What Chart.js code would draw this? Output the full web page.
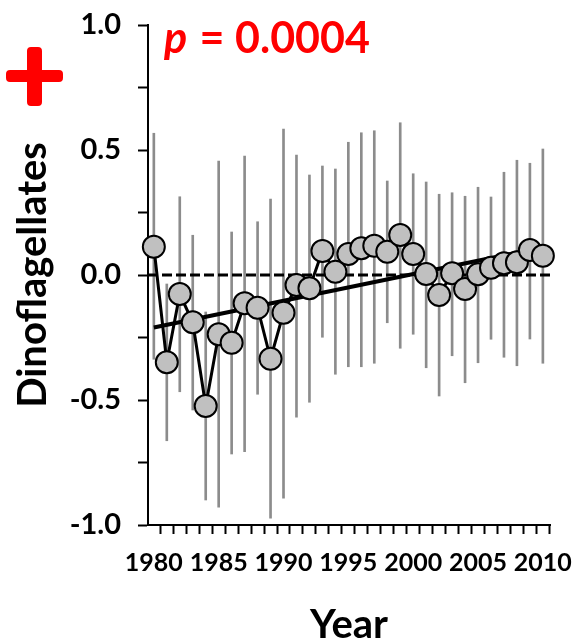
<!DOCTYPE html>
<html>
<head>
<meta charset="utf-8">
<script src="https://cdn.jsdelivr.net/npm/chart.js@4.4.1/dist/chart.umd.min.js"></script>
<style>
  html, body { margin: 0; padding: 0; background: #fff; }
  #wrap { width: 577px; height: 642px; }
</style>
</head>
<body>
<div id="wrap"><canvas id="chart" width="577" height="642"></canvas></div>
<script>
const years = [1980, 1981, 1982, 1983, 1984, 1985, 1986, 1987, 1988, 1989, 1990,
  1991, 1992, 1993, 1994, 1995, 1996, 1997, 1998, 1999, 2000,
  2001, 2002, 2003, 2004, 2005, 2006, 2007, 2008, 2009, 2010];
const values = [0.113, -0.349, -0.076, -0.189, -0.524, -0.237, -0.271, -0.113, -0.131, -0.335, -0.151,
  -0.04, -0.053, 0.096, 0.013, 0.084, 0.107, 0.117, 0.093, 0.16, 0.084,
  0.004, -0.08, 0.007, -0.056, 0.003, 0.029, 0.047, 0.051, 0.1, 0.077];
const highs = [0.567, -0.036, 0.313, 0.159, -0.148, 0.456, 0.172, 0.476, 0.213, 0.304, 0.584,
  0.48, 0.4, 0.436, 0.424, 0.531, 0.569, 0.577, 0.376, 0.609, 0.405,
  0.372, 0.323, 0.329, 0.315, 0.351, 0.312, 0.411, 0.459, 0.447, 0.504];
const lows = [-0.337, -0.663, -0.467, -0.54, -0.9, -0.929, -0.716, -0.707, -0.477, -0.973, -0.893,
  -0.569, -0.509, -0.249, -0.397, -0.367, -0.367, -0.353, -0.191, -0.293, -0.237,
  -0.371, -0.484, -0.323, -0.431, -0.351, -0.257, -0.329, -0.363, -0.256, -0.353];
const trendYears = [1980, 2009];
const trendValues = [-0.21, 0.10];
const yTicks = [-1, -0.75, -0.5, -0.25, 0, 0.25, 0.5, 0.75, 1];
const xMin = 1979.55;
const xMax = 2010.55;
const pLabel = '= 0.0004';

const FONT = 'Lato';

function noPadding(scale) {
  scale.paddingLeft = 0;
  scale.paddingRight = 0;
  scale.paddingTop = 0;
  scale.paddingBottom = 0;
}

// red plus sign and the p-value note
const notes = {
  id: 'notes',
  afterDraw(chart) {
    const ctx = chart.ctx;
    ctx.save();
    ctx.fillStyle = '#ff0000';
    ctx.beginPath();
    ctx.roundRect(27, 47, 15, 59, 4);
    ctx.roundRect(6, 70, 57, 12, 4);
    ctx.fill();

    ctx.textBaseline = 'alphabetic';
    ctx.font = 'italic bold 43px ' + FONT;
    ctx.fillText('p', 164, 53);
    const w = ctx.measureText('p ').width;
    ctx.font = 'bold 43px ' + FONT;
    ctx.fillText(pLabel, 164 + w + 3, 53);
    ctx.restore();
  }
};

const ctx = document.getElementById('chart').getContext('2d');
new Chart(ctx, {
  data: {
    datasets: [
      {
        type: 'line',
        data: years.map((y, i) => ({ x: y, y: values[i] })),
        borderColor: '#000',
        borderWidth: 3,
        pointRadius: 11,
        pointBackgroundColor: '#c0c0c0',
        pointBorderColor: '#000',
        pointBorderWidth: 2,
        tension: 0,
        clip: false,
        order: 0
      },
      {
        type: 'line',
        data: trendYears.map((y, i) => ({ x: y, y: trendValues[i] })),
        borderColor: '#000',
        borderWidth: 4,
        pointRadius: 0,
        order: 1
      },
      {
        type: 'line',
        data: [{ x: xMin, y: 0 }, { x: xMax, y: 0 }],
        borderColor: '#000',
        borderWidth: 3,
        borderDash: [10, 4],
        pointRadius: 0,
        order: 2
      },
      {
        type: 'bar',
        data: years.map((y, i) => ({ x: y, y: [lows[i], highs[i]] })),
        backgroundColor: '#8c8c8c',
        barThickness: 2,
        order: 3
      }
    ]
  },
  options: {
    responsive: false,
    animation: false,
    layout: { padding: { left: 0, right: 27, top: 25, bottom: 0 } },
    plugins: { legend: { display: false }, tooltip: { enabled: false } },
    scales: {
      x: {
        type: 'linear',
        min: xMin,
        max: xMax,
        offset: false,
        afterBuildTicks: (scale) => { scale.ticks = years.map(v => ({ value: v })); },
        afterFit: (scale) => { scale.height = 117; noPadding(scale); },
        grid: { drawOnChartArea: false, drawTicks: true, tickLength: 9, tickWidth: 2, tickColor: '#000' },
        border: { color: '#000', width: 2 },
        ticks: {
          autoSkip: false,
          maxRotation: 0,
          padding: 14,
          color: '#000',
          font: { family: FONT, weight: 'bold', size: 25 },
          callback: (v) => (v % 5 === 0 ? String(v) : '')
        },
        title: {
          display: true,
          text: 'Year',
          color: '#000',
          font: { family: FONT, weight: 'bold', size: 40, lineHeight: 0.85 },
          padding: { top: 0, bottom: 0 }
        }
      },
      y: {
        type: 'linear',
        min: -1,
        max: 1,
        afterBuildTicks: (scale) => { scale.ticks = yTicks.map(v => ({ value: v })); },
        afterFit: (scale) => { scale.width = 148; noPadding(scale); },
        grid: { drawOnChartArea: false, drawTicks: true, tickLength: 10, tickWidth: 2, tickColor: '#000' },
        border: { color: '#000', width: 2 },
        ticks: {
          padding: 17,
          color: '#000',
          font: { family: FONT, weight: 'bold', size: 29 },
          callback: (v) => (Math.abs(v * 2 - Math.round(v * 2)) < 1e-9 ? v.toFixed(1) : '')
        },
        title: {
          display: true,
          text: 'Dinoflagellates',
          color: '#000',
          font: { family: FONT, weight: 'bold', size: 40 },
          padding: { top: 9, bottom: 0 }
        }
      }
    }
  },
  plugins: [notes]
});
</script>
</body>
</html>
